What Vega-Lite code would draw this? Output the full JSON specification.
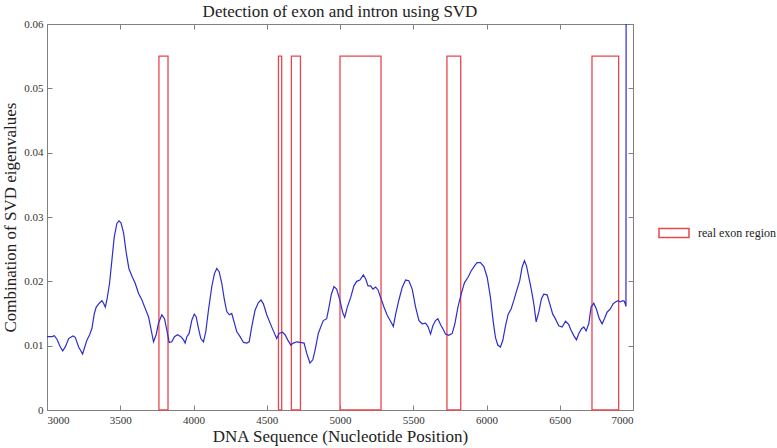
{
  "$schema": "https://vega.github.io/schema/vega-lite/v6.json",
  "width": 586,
  "height": 386,
  "autosize": "none",
  "padding": {"left": 47, "top": 24, "right": 144, "bottom": 38},
  "background": "white",
  "config": {
    "view": {"stroke": null},
    "font": "Liberation Serif",
    "axis": {
      "domainColor": "#808080",
      "tickColor": "#808080",
      "tickSize": -5,
      "grid": false,
      "labelFont": "Liberation Serif",
      "labelFontSize": 11,
      "labelColor": "#333333",
      "titleFont": "Liberation Serif",
      "titleFontWeight": "normal",
      "titleFontSize": 17,
      "titleColor": "#222222"
    },
    "title": {"font": "Liberation Serif", "fontSize": 17, "fontWeight": "normal", "color": "#222222"}
  },
  "title": {"text": "Detection of exon and intron using SVD", "anchor": "middle", "offset": -3},
  "datasets": {
    "exons": [
      {"start": 3764, "end": 3826, "top": 0.055, "bottom": 0, "label": "real exon region"},
      {"start": 4580, "end": 4602, "top": 0.055, "bottom": 0, "label": "real exon region"},
      {"start": 4668, "end": 4730, "top": 0.055, "bottom": 0, "label": "real exon region"},
      {"start": 5000, "end": 5280, "top": 0.055, "bottom": 0, "label": "real exon region"},
      {"start": 5730, "end": 5824, "top": 0.055, "bottom": 0, "label": "real exon region"},
      {"start": 6720, "end": 6902, "top": 0.055, "bottom": 0, "label": "real exon region"}
    ],
    "svd": [
      {"pos": 3000, "val": 0.0114}, {"pos": 3034, "val": 0.0114}, {"pos": 3050, "val": 0.01155},
      {"pos": 3068, "val": 0.0110}, {"pos": 3091, "val": 0.0098}, {"pos": 3107, "val": 0.0092},
      {"pos": 3125, "val": 0.0098}, {"pos": 3148, "val": 0.0111}, {"pos": 3177, "val": 0.0115},
      {"pos": 3193, "val": 0.0113}, {"pos": 3216, "val": 0.0098}, {"pos": 3243, "val": 0.0087},
      {"pos": 3255, "val": 0.0096}, {"pos": 3273, "val": 0.0109}, {"pos": 3291, "val": 0.0117},
      {"pos": 3307, "val": 0.0127}, {"pos": 3323, "val": 0.0150}, {"pos": 3336, "val": 0.0160},
      {"pos": 3357, "val": 0.0166}, {"pos": 3375, "val": 0.0170}, {"pos": 3386, "val": 0.0166},
      {"pos": 3398, "val": 0.0160}, {"pos": 3409, "val": 0.0171}, {"pos": 3427, "val": 0.0197},
      {"pos": 3443, "val": 0.0233}, {"pos": 3459, "val": 0.0269}, {"pos": 3477, "val": 0.0290},
      {"pos": 3491, "val": 0.0294}, {"pos": 3505, "val": 0.0291}, {"pos": 3523, "val": 0.0275},
      {"pos": 3541, "val": 0.0244}, {"pos": 3559, "val": 0.0220}, {"pos": 3580, "val": 0.0208},
      {"pos": 3602, "val": 0.0197}, {"pos": 3625, "val": 0.0181}, {"pos": 3648, "val": 0.0171},
      {"pos": 3670, "val": 0.0158}, {"pos": 3693, "val": 0.0145}, {"pos": 3709, "val": 0.0127},
      {"pos": 3727, "val": 0.0106}, {"pos": 3745, "val": 0.0117}, {"pos": 3761, "val": 0.0135},
      {"pos": 3784, "val": 0.0148}, {"pos": 3802, "val": 0.0142}, {"pos": 3818, "val": 0.0124},
      {"pos": 3834, "val": 0.0105}, {"pos": 3852, "val": 0.0106}, {"pos": 3870, "val": 0.0114},
      {"pos": 3891, "val": 0.0117}, {"pos": 3914, "val": 0.0114}, {"pos": 3932, "val": 0.0109},
      {"pos": 3943, "val": 0.0104}, {"pos": 3955, "val": 0.0114}, {"pos": 3970, "val": 0.0119},
      {"pos": 3989, "val": 0.0140}, {"pos": 4005, "val": 0.0149}, {"pos": 4018, "val": 0.0145},
      {"pos": 4034, "val": 0.0127}, {"pos": 4050, "val": 0.0111}, {"pos": 4068, "val": 0.0106},
      {"pos": 4084, "val": 0.0122}, {"pos": 4102, "val": 0.0155}, {"pos": 4125, "val": 0.0192},
      {"pos": 4143, "val": 0.0212}, {"pos": 4159, "val": 0.0220}, {"pos": 4175, "val": 0.0215},
      {"pos": 4193, "val": 0.0197}, {"pos": 4211, "val": 0.0171}, {"pos": 4227, "val": 0.0153},
      {"pos": 4245, "val": 0.0148}, {"pos": 4261, "val": 0.0150}, {"pos": 4277, "val": 0.0137},
      {"pos": 4295, "val": 0.0122}, {"pos": 4318, "val": 0.0114}, {"pos": 4341, "val": 0.0105},
      {"pos": 4364, "val": 0.0104}, {"pos": 4380, "val": 0.0106}, {"pos": 4398, "val": 0.0130},
      {"pos": 4420, "val": 0.0155}, {"pos": 4443, "val": 0.0167}, {"pos": 4461, "val": 0.0171},
      {"pos": 4477, "val": 0.0165}, {"pos": 4500, "val": 0.0148}, {"pos": 4523, "val": 0.0135},
      {"pos": 4545, "val": 0.0123}, {"pos": 4568, "val": 0.0111}, {"pos": 4584, "val": 0.0119},
      {"pos": 4607, "val": 0.0121}, {"pos": 4625, "val": 0.0117}, {"pos": 4643, "val": 0.0109},
      {"pos": 4664, "val": 0.0101}, {"pos": 4682, "val": 0.0104}, {"pos": 4705, "val": 0.0106},
      {"pos": 4727, "val": 0.0105}, {"pos": 4755, "val": 0.0104}, {"pos": 4773, "val": 0.0088},
      {"pos": 4795, "val": 0.0073}, {"pos": 4814, "val": 0.0078}, {"pos": 4830, "val": 0.0093},
      {"pos": 4852, "val": 0.0119}, {"pos": 4870, "val": 0.0130}, {"pos": 4886, "val": 0.0139},
      {"pos": 4909, "val": 0.0142}, {"pos": 4925, "val": 0.0160}, {"pos": 4941, "val": 0.0180},
      {"pos": 4959, "val": 0.0192}, {"pos": 4977, "val": 0.0188}, {"pos": 5000, "val": 0.0170},
      {"pos": 5018, "val": 0.0152}, {"pos": 5032, "val": 0.0144}, {"pos": 5050, "val": 0.0160},
      {"pos": 5073, "val": 0.0175}, {"pos": 5095, "val": 0.0193}, {"pos": 5114, "val": 0.0200},
      {"pos": 5136, "val": 0.0202}, {"pos": 5159, "val": 0.0210}, {"pos": 5175, "val": 0.0204},
      {"pos": 5191, "val": 0.0193}, {"pos": 5209, "val": 0.0193}, {"pos": 5225, "val": 0.0188},
      {"pos": 5243, "val": 0.0191}, {"pos": 5259, "val": 0.0187}, {"pos": 5277, "val": 0.0175},
      {"pos": 5300, "val": 0.0160}, {"pos": 5323, "val": 0.0147}, {"pos": 5345, "val": 0.0138},
      {"pos": 5364, "val": 0.0130}, {"pos": 5380, "val": 0.0149}, {"pos": 5402, "val": 0.0171},
      {"pos": 5425, "val": 0.0191}, {"pos": 5448, "val": 0.0202}, {"pos": 5470, "val": 0.0201},
      {"pos": 5493, "val": 0.0188}, {"pos": 5516, "val": 0.0160}, {"pos": 5539, "val": 0.0139},
      {"pos": 5561, "val": 0.0134}, {"pos": 5584, "val": 0.0135}, {"pos": 5600, "val": 0.0130},
      {"pos": 5618, "val": 0.0118}, {"pos": 5634, "val": 0.0131}, {"pos": 5652, "val": 0.0139},
      {"pos": 5668, "val": 0.0142}, {"pos": 5686, "val": 0.0133}, {"pos": 5705, "val": 0.0125},
      {"pos": 5720, "val": 0.0118}, {"pos": 5743, "val": 0.0116}, {"pos": 5766, "val": 0.0119},
      {"pos": 5784, "val": 0.0134}, {"pos": 5805, "val": 0.0160}, {"pos": 5827, "val": 0.0180},
      {"pos": 5850, "val": 0.0198}, {"pos": 5873, "val": 0.0206}, {"pos": 5895, "val": 0.0216},
      {"pos": 5918, "val": 0.0224}, {"pos": 5936, "val": 0.0229}, {"pos": 5959, "val": 0.0229},
      {"pos": 5982, "val": 0.0223}, {"pos": 6005, "val": 0.0206}, {"pos": 6027, "val": 0.0175},
      {"pos": 6045, "val": 0.0139}, {"pos": 6061, "val": 0.0113}, {"pos": 6077, "val": 0.0101},
      {"pos": 6095, "val": 0.0098}, {"pos": 6111, "val": 0.0108}, {"pos": 6130, "val": 0.0131},
      {"pos": 6148, "val": 0.0149}, {"pos": 6168, "val": 0.0157}, {"pos": 6186, "val": 0.0170},
      {"pos": 6209, "val": 0.0188}, {"pos": 6227, "val": 0.0201}, {"pos": 6243, "val": 0.0222},
      {"pos": 6259, "val": 0.0232}, {"pos": 6273, "val": 0.0224}, {"pos": 6289, "val": 0.0206},
      {"pos": 6307, "val": 0.0186}, {"pos": 6323, "val": 0.0165}, {"pos": 6339, "val": 0.0137},
      {"pos": 6357, "val": 0.0152}, {"pos": 6375, "val": 0.0173}, {"pos": 6391, "val": 0.0180},
      {"pos": 6414, "val": 0.0179}, {"pos": 6432, "val": 0.0165}, {"pos": 6452, "val": 0.0149},
      {"pos": 6470, "val": 0.0142}, {"pos": 6493, "val": 0.0131}, {"pos": 6516, "val": 0.0129},
      {"pos": 6539, "val": 0.0138}, {"pos": 6561, "val": 0.0133}, {"pos": 6577, "val": 0.0124},
      {"pos": 6595, "val": 0.0116}, {"pos": 6614, "val": 0.0109}, {"pos": 6630, "val": 0.0119},
      {"pos": 6648, "val": 0.0126}, {"pos": 6664, "val": 0.0129}, {"pos": 6680, "val": 0.0123},
      {"pos": 6698, "val": 0.0134}, {"pos": 6714, "val": 0.0160}, {"pos": 6732, "val": 0.0166},
      {"pos": 6750, "val": 0.0157}, {"pos": 6770, "val": 0.0142}, {"pos": 6789, "val": 0.0134},
      {"pos": 6805, "val": 0.0142}, {"pos": 6823, "val": 0.0152}, {"pos": 6845, "val": 0.0157},
      {"pos": 6864, "val": 0.0165}, {"pos": 6880, "val": 0.0168}, {"pos": 6898, "val": 0.0170},
      {"pos": 6914, "val": 0.0168}, {"pos": 6930, "val": 0.0170}, {"pos": 6941, "val": 0.0169},
      {"pos": 6952, "val": 0.0161}, {"pos": 6953, "val": 0.0600}
    ]
  },
  "layer": [
    {
      "data": {"name": "exons"},
      "mark": {"type": "rect", "filled": false, "strokeWidth": 1.3, "fill": null},
      "encoding": {
        "x": {"field": "start", "type": "quantitative", "scale": {"domain": [3000, 7000], "nice": false},
              "axis": {"orient": "top", "labels": false, "title": null, "values": [3000, 3500, 4000, 4500, 5000, 5500, 6000, 6500, 7000]}},
        "x2": {"field": "end"},
        "y": {"field": "top", "type": "quantitative", "scale": {"domain": [0, 0.06], "nice": false},
              "axis": {"orient": "right", "labels": false, "title": null, "values": [0, 0.01, 0.02, 0.03, 0.04, 0.05, 0.06]}},
        "y2": {"field": "bottom"},
        "stroke": {"field": "label", "type": "nominal", "scale": {"range": ["#e8474d"]},
                   "legend": {"title": null, "orient": "none", "legendX": 611, "legendY": 193,
                              "symbolType": "M-1,-0.3H1V0.3H-1Z", "symbolSize": 900, "symbolStrokeWidth": 1.5,
                              "symbolFillColor": "transparent", "labelFont": "Liberation Serif", "labelFontSize": 12,
                              "labelColor": "#222222", "labelOffset": 8}}
      }
    },
    {
      "data": {"name": "svd"},
      "mark": {"type": "line", "color": "#2d2dcc", "strokeWidth": 1.2, "clip": true},
      "encoding": {
        "x": {"field": "pos", "type": "quantitative", "scale": {"domain": [3000, 7000], "nice": false},
              "axis": {"orient": "bottom", "title": "DNA Sequence (Nucleotide Position)", "format": "d",
                       "labelFont": "Liberation Serif", "labelFontSize": 11,
                       "values": [3000, 3500, 4000, 4500, 5000, 5500, 6000, 6500, 7000], "labelPadding": 9, "titlePadding": 3}},
        "y": {"field": "val", "type": "quantitative", "scale": {"domain": [0, 0.06], "nice": false},
              "axis": {"orient": "left", "title": "Combination of SVD eigenvalues", "format": "~g",
                       "labelFont": "Liberation Serif", "labelFontSize": 11,
                       "values": [0, 0.01, 0.02, 0.03, 0.04, 0.05, 0.06], "labelPadding": 9, "titlePadding": 4}}
      }
    }
  ],
  "resolve": {"axis": {"x": "independent", "y": "independent"}}
}
